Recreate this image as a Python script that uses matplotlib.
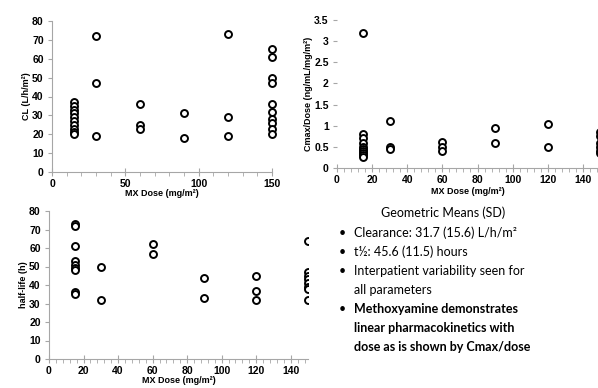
import numpy as np
import matplotlib
matplotlib.use("Agg")
import matplotlib.pyplot as plt
from matplotlib.ticker import MultipleLocator, FixedLocator, FuncFormatter
from matplotlib.font_manager import FontProperties

# Datos
# Clearance (L/h/m2) por dosis
cl_dose = [15]*10 + [30]*3 + [60]*3 + [90]*2 + [120]*3 + [150]*10
cl_vals = [37, 35, 33, 31, 29, 27, 25, 23, 21, 20,
           72, 47, 19,
           36, 25, 23,
           31, 18,
           73, 29, 19,
           65, 61, 50, 47, 36, 32, 28, 26, 23, 20]

# Cmax/Dose por dosis
cm_dose = [15]*10 + [30]*3 + [60]*3 + [90]*2 + [120]*2 + [150]*6
cm_vals = [3.2, 0.8, 0.7, 0.6, 0.5, 0.45, 0.4, 0.35, 0.3, 0.25,
           1.12, 0.5, 0.45,
           0.62, 0.5, 0.4,
           0.95, 0.6,
           1.05, 0.5,
           0.85, 0.75, 0.6, 0.5, 0.4, 0.35]

# Vida media (h) por dosis
hl_dose = [15]*9 + [30]*2 + [60]*2 + [90]*2 + [120]*3 + [150]*8
hl_vals = [73, 72, 61, 53, 51, 49, 48, 36, 35,
           50, 32,
           62, 57,
           44, 33,
           45, 37, 32,
           64, 47, 45, 43, 41, 39, 38, 32]

# Texto de la diapositiva (cada vineta es una lista de lineas)
bullets = [["Clearance: 31.7 (15.6) L/h/m²"],
           ["t½: 45.6 (11.5) hours"],
           ["Interpatient variability seen for", "all parameters"],
           ["Methoxyamine demonstrates", "linear pharmacokinetics with",
            "dose as is shown by Cmax/dose"]]

W, H = 598, 388
fig = plt.figure(figsize=(W/100, H/100), dpi=100)

gris = "#a6a6a6"
tick_fp = FontProperties(family="Liberation Sans", weight="bold", size=7.5)
lab_font = dict(family="Liberation Sans", weight="bold", size=6.5)


def estilo(ax, xticks, xmin, ymaj, show_left=True):
    for s in ["top", "right"]:
        ax.spines[s].set_visible(False)
    ax.spines["left"].set_visible(show_left)
    ax.spines["left"].set_color(gris)
    ax.spines["bottom"].set_color(gris)
    ax.xaxis.set_major_locator(FixedLocator(xticks))
    ax.xaxis.set_minor_locator(MultipleLocator(xmin))
    ax.yaxis.set_major_locator(MultipleLocator(ymaj))
    ax.yaxis.set_major_formatter(FuncFormatter(lambda v, p: f"{v:g}"))
    ax.tick_params(axis="x", which="major", direction="inout", length=6, color=gris, pad=2)
    ax.tick_params(axis="x", which="minor", direction="out", length=3, color=gris)
    ax.tick_params(axis="y", which="major", direction="out", length=3, color=gris, pad=3)
    for t in ax.get_xticklabels() + ax.get_yticklabels():
        t.set_fontproperties(tick_fp)


# Arriba izquierda: CL
ax1 = fig.add_axes([52/W, 1-172/H, 220/W, 151/H])
ax1.plot(cl_dose, cl_vals, "o", ms=5, mfc="white", mec="black", mew=1.4, clip_on=False)
ax1.set_xlim(0, 150)
ax1.set_ylim(0, 80)
estilo(ax1, [0, 50, 100, 150], 10, 10)
ax1.set_xlabel("MX Dose (mg/m²)", labelpad=0, **lab_font)
ax1.set_ylabel("CL (L/h/m²)", labelpad=1, **lab_font)

# Arriba derecha: Cmax/Dose
ax2 = fig.add_axes([337/W, 1-168/H, 281/W, 148/H])
ax2.plot(cm_dose, cm_vals, "o", ms=5, mfc="white", mec="black", mew=1.4)
ax2.set_xlim(0, 160)
ax2.set_ylim(0, 3.5)
estilo(ax2, range(0, 160, 20), 4, 0.5, show_left=False)
ax2.set_xlabel("MX Dose (mg/m²)", labelpad=0, **lab_font)
ax2.xaxis.set_label_coords((468-337)/281, -0.125)
ax2.set_ylabel("Cmax/Dose (ng/mL/mg/m²)", labelpad=1, **lab_font)

# Abajo izquierda: vida media
ax3 = fig.add_axes([49/W, 1-359/H, 259/W, 148/H])
ax3.plot(hl_dose, hl_vals, "o", ms=5, mfc="white", mec="black", mew=1.4)
ax3.set_xlim(0, 150)
ax3.set_ylim(0, 80)
estilo(ax3, range(0, 160, 20), 4, 10)
ax3.set_xlabel("MX Dose (mg/m²)", labelpad=0, **lab_font)
ax3.set_ylabel("half-life (h)", labelpad=1, **lab_font)

# Texto a la derecha
fig.text(443/W, 1-213/H, "Geometric Means (SD)", ha="center", va="center",
         family="Lato", size=9)
y = 233
for i, lineas in enumerate(bullets):
    peso = "bold" if i == 3 else "normal"
    fig.text(342/W, 1-y/H, "•", ha="center", va="center", family="Lato", size=9)
    for linea in lineas:
        fig.text(354/W, 1-y/H, linea, ha="left", va="center", family="Lato",
                 size=9, weight=peso)
        y += 19

fig.savefig("out.png", dpi=100)
